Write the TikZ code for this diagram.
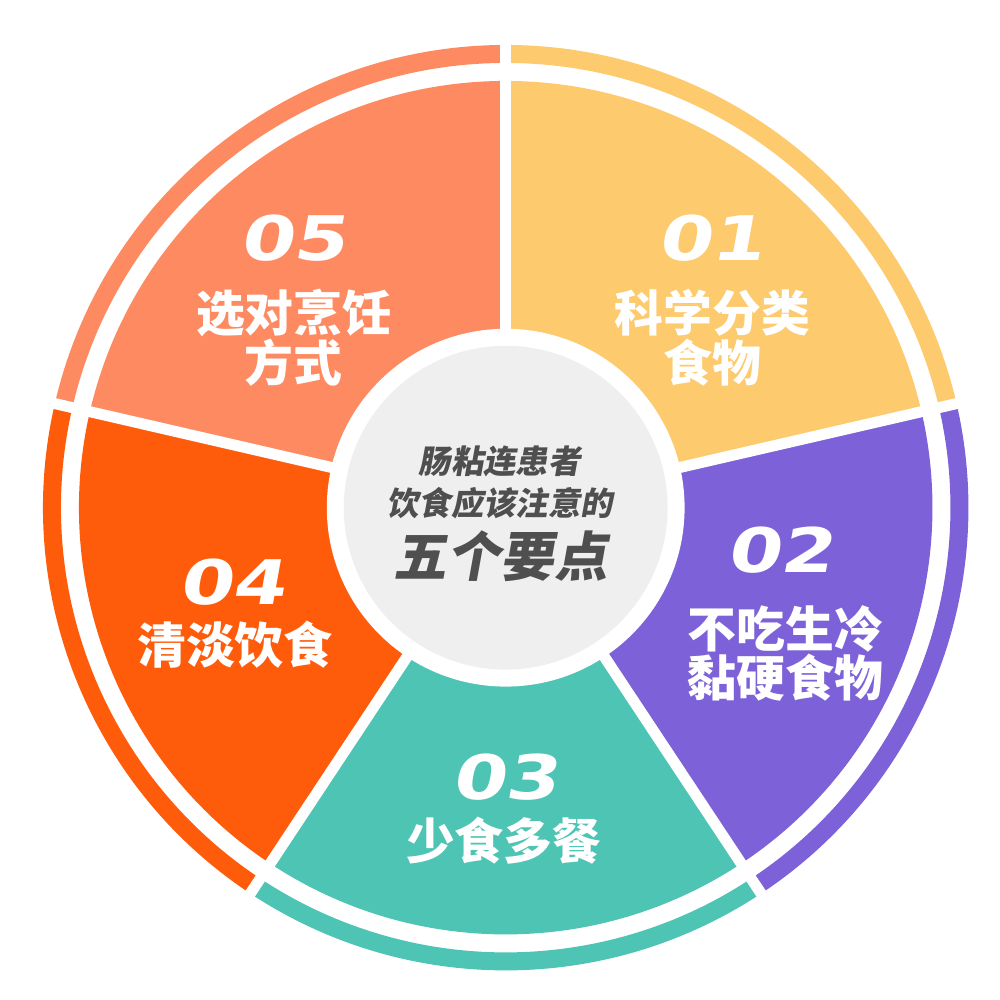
\documentclass[tikz,border=0pt]{standalone}
\usepackage{fontspec}
\newfontfamily\cjk{Noto Sans CJK SC}
\newfontfamily\cjkhub{Noto Sans CJK SC}[FakeSlant=0.18]
\newfontfamily\numfont{DejaVu Sans}[FakeStretch=1.25,FakeSlant=0.18]
\definecolor{segyellow}{HTML}{FDCA6E}
\definecolor{segpurple}{HTML}{7D61D8}
\definecolor{segteal}{HTML}{4EC4B4}
\definecolor{segorange}{HTML}{FE5B0A}
\definecolor{segsalmon}{HTML}{FE8A61}
\definecolor{hubgray}{HTML}{EFEFEF}
\definecolor{hubtext}{HTML}{4F4F4F}
\begin{document}
\begin{tikzpicture}[
  itemtext/.style={text=white,align=center,inner sep=0pt,font=\cjk\bfseries\fontsize{13.9pt}{14pt}\selectfont},
  itemnum/.style={text=white,inner sep=0pt,font=\numfont\bfseries\fontsize{17.5pt}{18pt}\selectfont},
  hubsmall/.style={text=hubtext,inner sep=0pt,font=\cjkhub\bfseries\fontsize{9.2pt}{10pt}\selectfont},
  hubbig/.style={text=hubtext,inner sep=0pt,font=\cjkhub\bfseries\fontsize{15.2pt}{16pt}\selectfont},
  gap/.style={draw=white,line width=1.1mm}]
\fill[white] (-5.06,-4.92) rectangle (4.94,5.08);
% segments
\fill[segsalmon] (0,0) -- (90:4.27) arc[start angle=90,end angle=167,radius=4.27] -- cycle;
\fill[segorange] (0,0) -- (167:4.27) arc[start angle=167,end angle=236.5,radius=4.27] -- cycle;
\fill[segteal] (0,0) -- (236.5:4.27) arc[start angle=236.5,end angle=303.5,radius=4.27] -- cycle;
\fill[segpurple] (0,0) -- (303.5:4.27) arc[start angle=303.5,end angle=373,radius=4.27] -- cycle;
\fill[segyellow] (0,0) -- (13:4.27) arc[start angle=13,end angle=90,radius=4.27] -- cycle;
% outer ring
\fill[segsalmon] (90:4.45) arc[start angle=90,end angle=167,radius=4.45] -- (167:4.63) arc[start angle=167,end angle=90,radius=4.63] -- cycle;
\fill[segorange] (167:4.45) arc[start angle=167,end angle=236.5,radius=4.45] -- (236.5:4.63) arc[start angle=236.5,end angle=167,radius=4.63] -- cycle;
\fill[segteal] (236.5:4.45) arc[start angle=236.5,end angle=303.5,radius=4.45] -- (303.5:4.63) arc[start angle=303.5,end angle=236.5,radius=4.63] -- cycle;
\fill[segpurple] (303.5:4.45) arc[start angle=303.5,end angle=373,radius=4.45] -- (373:4.63) arc[start angle=373,end angle=303.5,radius=4.63] -- cycle;
\fill[segyellow] (13:4.45) arc[start angle=13,end angle=90,radius=4.45] -- (90:4.63) arc[start angle=90,end angle=13,radius=4.63] -- cycle;
% white gaps
\draw[gap] (0,0) -- (90:4.8);
\draw[gap] (0,0) -- (167:4.8);
\draw[gap] (0,0) -- (236.5:4.8);
\draw[gap] (0,0) -- (303.5:4.8);
\draw[gap] (0,0) -- (13:4.8);
% hub
\fill[white] (0,0) circle (1.79);
\fill[hubgray] (0,0) circle (1.62);
\node[hubsmall] (hubline1) at (-0.06,0.46) {肠粘连患者};
\node[hubsmall] (hubline2) at (-0.06,0.05) {饮食应该注意的};
\node[hubbig] (hubline3) at (-0.05,-0.49) {五个要点};
% labels
\node[itemnum] (num05) at (-2.13,2.70) {05};
\node[itemtext] (txt05) at (-2.12,1.70) {选对烹饪\\方式};
\node[itemnum] (num01) at (2.05,2.70) {01};
\node[itemtext] (txt01) at (2.07,1.70) {科学分类\\食物};
\node[itemnum] (num02) at (2.74,-0.42) {02};
\node[itemtext] (txt02) at (2.80,-1.46) {不吃生冷\\黏硬食物};
\node[itemnum] (num03) at (-0.01,-2.70) {03};
\node[itemtext] (txt03) at (-0.02,-3.33) {少食多餐};
\node[itemnum] (num04) at (-2.74,-0.74) {04};
\node[itemtext] (txt04) at (-2.71,-1.37) {清淡饮食};
\end{tikzpicture}
\end{document}
